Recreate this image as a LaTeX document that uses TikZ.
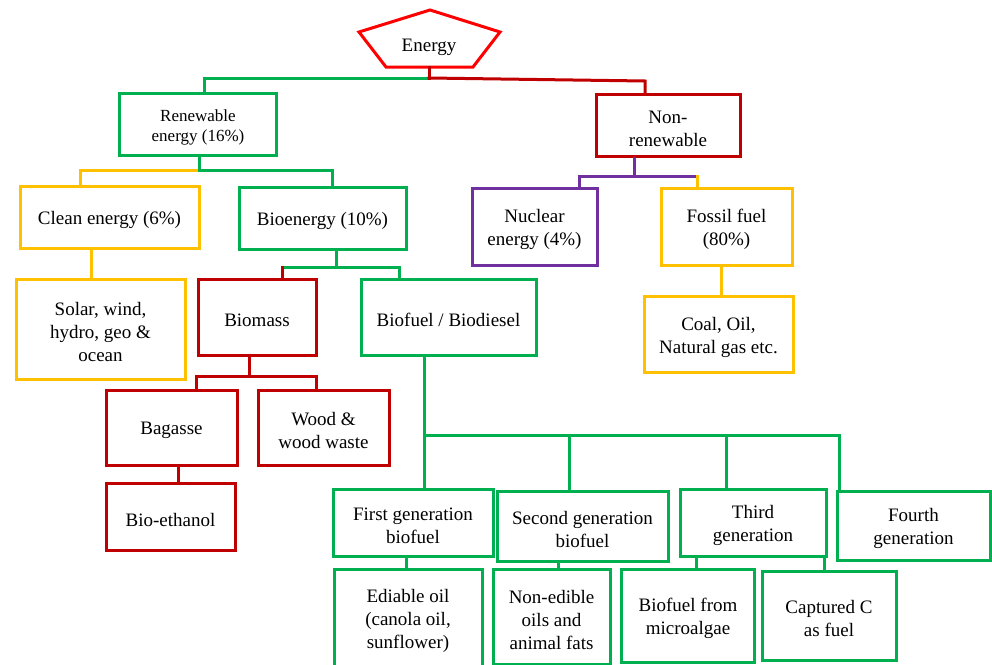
\documentclass[tikz,border=0pt]{standalone}
\usepackage{fontspec}
\setmainfont{Liberation Serif}
\definecolor{gr}{HTML}{00B050}
\definecolor{rd}{HTML}{C00000}
\definecolor{brd}{HTML}{FF0000}
\definecolor{ye}{HTML}{FFC000}
\definecolor{pu}{HTML}{7030A0}
\newcommand\bx[7]{\node[box=#2, minimum width=#5, minimum height=#6, label={[lbl]center:{#7}}] (#1) at (#3,#4) {};}
\begin{document}
\begin{tikzpicture}[x=1pt,y=-1pt,
  box/.style={draw=#1, line width=3pt, inner sep=0pt},
  lbl/.style={align=center, inner sep=0pt, yshift=-3pt, text=black, font=\fontsize{19}{23}\selectfont},
  con/.style={draw=#1, line width=3pt, line cap=rect, line join=miter}]
\useasboundingbox (0,0) rectangle (992,664);
% Energy pentagon
\draw[brd, line width=3pt, line join=miter] (430,10) -- (500,32) -- (473,67) -- (386,67) -- (359,32) -- cycle;
\node[text=black, font=\fontsize{19}{23}\selectfont] (energy) at (429,47) {Energy};
\coordinate (ebot) at (429,67);
% boxes
\node[box=gr, minimum width=157, minimum height=62,
  label={[lbl, font=\fontsize{17}{20}\selectfont]center:{Renewable\\energy (16\%)}}] (ren) at (198,124.5) {};
\bx{non}{rd}{668}{125.5}{144}{62}{Non-\\renewable}
\bx{clean}{ye}{109.5}{217}{179}{62}{Clean energy (6\%)}
\bx{bio}{gr}{322.5}{218}{167}{62}{Bioenergy (10\%)}
\bx{solar}{ye}{100.5}{329}{169}{100}{Solar, wind,\\hydro, geo \&\\ocean}
\bx{biomass}{rd}{257}{317}{118}{76}{Biomass}
\bx{biofuel}{gr}{448.5}{317}{175}{76}{Biofuel / Biodiesel}
\bx{bagasse}{rd}{171.5}{427.5}{131}{75}{Bagasse}
\bx{wood}{rd}{323.5}{427.5}{131}{75}{Wood \&\\wood waste}
\bx{ethanol}{rd}{170.5}{516.5}{129}{67}{Bio-ethanol}
\bx{nuclear}{pu}{534.5}{226.5}{125}{77}{Nuclear\\energy (4\%)}
\bx{fossil}{ye}{726.5}{226.5}{131}{77}{Fossil fuel\\(80\%)}
\bx{coal}{ye}{718.5}{334}{149}{76}{Coal, Oil,\\Natural gas etc.}
\bx{g1}{gr}{413}{522.5}{160}{67}{First generation\\biofuel}
\bx{g2}{gr}{582.5}{526}{171}{70}{Second generation\\biofuel}
\bx{g3}{gr}{753}{522.5}{146}{67}{Third\\generation}
\bx{g4}{gr}{913.5}{525.5}{153}{69}{Fourth\\generation}
\bx{e1}{gr}{408}{617.5}{148}{97}{Ediable oil\\(canola oil,\\sunflower)}
\bx{e2}{gr}{551.5}{616.5}{117}{95}{Non-edible\\oils and\\animal fats}
\bx{e3}{gr}{688}{615.5}{133}{93}{Biofuel from\\microalgae}
\bx{e4}{gr}{829}{615.5}{134}{89}{Captured C\\as fuel}
% connectors
\coordinate (ej) at (429,78);
\draw[con=gr] (ej) -| ([xshift=6]ren.north);
\draw[con=rd] (ej) -- (645,81) -- ([xshift=-23]non.north);
\draw[con=rd] (ebot) -- (ej);
\coordinate (rj) at (199.5,170);
\draw[con=ye] (rj) -| ([xshift=-29.5]clean.north);
\draw[con=gr] (rj) -| ([xshift=9.5]bio.north);
\draw[con=gr] ([xshift=1.5]ren.south) -- (rj);
\draw[con=ye] ([xshift=-18.5]clean.south) -- ([xshift=-9.5]solar.north);
\coordinate (bj) at (336,267);
\draw[con=gr] ([xshift=13.5]bio.south) -- (bj);
\draw[con=gr] (bj) -| ([xshift=-49.5]biofuel.north);
\draw[con=gr] (bj) -- ([xshift=25]biomass.north |- bj);
\draw[con=rd] ([xshift=25]biomass.north |- bj) -- ([xshift=25]biomass.north);
\coordinate (mj) at (249,376);
\draw[con=rd] ([xshift=-8]biomass.south) -- (mj);
\draw[con=rd] (mj) -| ([xshift=24.5]bagasse.north);
\draw[con=rd] (mj) -| ([xshift=-7.5]wood.north);
\draw[con=rd] ([xshift=6.5]bagasse.south) -- ([xshift=7.5]ethanol.north);
\coordinate (fj) at (424,435);
\draw[con=gr] ([xshift=-24.5]biofuel.south) -- ([xshift=11]g1.north);
\draw[con=gr] (fj) -| ([xshift=-13.5]g2.north);
\draw[con=gr] (fj) -| ([xshift=-27]g3.north);
\draw[con=gr] (fj) -| ([xshift=-74.5]g4.north);
\draw[con=gr] ([xshift=-7]g1.south) -- ([xshift=-2]e1.north);
\draw[con=gr] ([xshift=-24.5]g2.south) -- ([xshift=6.5]e2.north);
\draw[con=gr] ([xshift=-57]g3.south) -- ([xshift=8]e3.north);
\draw[con=gr] ([xshift=71]g3.south) -- ([xshift=-5]e4.north);
\coordinate (nj) at (634,176);
\draw[con=pu] ([xshift=-34]non.south) -- (nj);
\draw[con=pu] (nj) -| ([xshift=44.5]nuclear.north);
\draw[con=pu] (nj) -- ([xshift=-29.5]fossil.north |- nj);
\draw[con=ye] ([xshift=-29.5]fossil.north |- nj) -- ([xshift=-29.5]fossil.north);
\draw[con=ye] ([xshift=-5.5]fossil.south) -- ([xshift=2.5]coal.north);
\end{tikzpicture}
\end{document}
